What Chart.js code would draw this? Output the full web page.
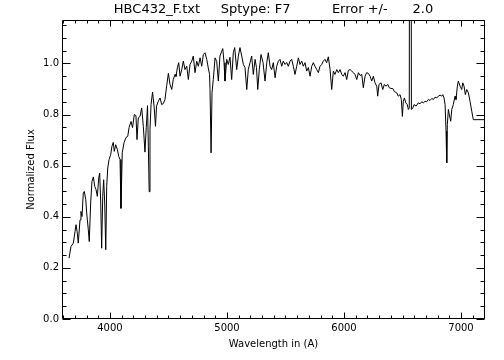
<!DOCTYPE html>
<html>
<head>
<meta charset="utf-8">
<script src="https://cdn.jsdelivr.net/npm/chart.js@4.4.1/dist/chart.umd.min.js"></script>
<style>
    body { margin: 0; background: #fff; }
</style>
</head>
<body>
<canvas id="spectrumChart" width="504" height="360"></canvas>
<script>
// Spectrum: wavelength in Angstrom, normalized flux
const wavelengths = [
    3650, 3667, 3687, 3701, 3710, 3721, 3729, 3744, 3752, 3761,
    3772, 3781, 3793, 3801, 3815, 3823, 3835, 3846, 3858, 3870,
    3881, 3892, 3904, 3912, 3921, 3929, 3938, 3946, 3955, 3964,
    3972, 3981, 3992, 4006, 4017, 4028, 4037, 4049, 4063, 4075,
    4086, 4094, 4105, 4120, 4137, 4152, 4163, 4180, 4193, 4208,
    4222, 4231, 4242, 4257, 4271, 4285, 4299, 4310, 4321, 4328,
    4335, 4342, 4351, 4364, 4378, 4389, 4398, 4413, 4428, 4442,
    4456, 4470, 4485, 4499, 4513, 4528, 4541, 4556, 4564, 4576,
    4587, 4599, 4613, 4627, 4641, 4656, 4670, 4684, 4699, 4712,
    4727, 4741, 4755, 4770, 4784, 4798, 4812, 4827, 4840, 4851,
    4855, 4864, 4872, 4883, 4898, 4912, 4926, 4940, 4955, 4964,
    4975, 4983, 4998, 5011, 5026, 5040, 5054, 5066, 5083, 5097,
    5111, 5126, 5140, 5154, 5169, 5182, 5197, 5211, 5225, 5240,
    5252, 5263, 5276, 5291, 5308, 5325, 5340, 5353, 5368, 5382,
    5396, 5411, 5425, 5439, 5453, 5468, 5481, 5496, 5510, 5524,
    5539, 5553, 5567, 5581, 5596, 5610, 5624, 5639, 5652, 5667,
    5681, 5695, 5710, 5724, 5738, 5752, 5767, 5781, 5795, 5810,
    5823, 5838, 5852, 5866, 5881, 5895, 5909, 5923, 5938, 5952,
    5966, 5981, 5994, 6009, 6023, 6037, 6052, 6066, 6080, 6094,
    6109, 6123, 6137, 6152, 6165, 6180, 6194, 6208, 6223, 6237,
    6251, 6265, 6280, 6288, 6299, 6317, 6331, 6345, 6359, 6374,
    6387, 6402, 6417, 6430, 6451, 6464, 6479, 6490, 6499, 6507,
    6516, 6528, 6541, 6550, 6558, 6565, 6576, 6588, 6599, 6616,
    6635, 6650, 6664, 6678, 6693, 6707, 6721, 6735, 6750, 6764,
    6778, 6793, 6806, 6821, 6835, 6844, 6855, 6864, 6872, 6878,
    6883, 6892, 6900, 6912, 6921, 6934, 6949, 6957, 6969, 6977,
    6992, 7006, 7015, 7026, 7037, 7049, 7063, 7077, 7092, 7105,
    7205
];
const fluxValues = [
    0.238, 0.284, 0.297, 0.342, 0.369, 0.336, 0.297, 0.388, 0.421, 0.401,
    0.493, 0.499, 0.467, 0.415, 0.349, 0.303, 0.454, 0.538, 0.556, 0.519,
    0.506, 0.480, 0.552, 0.571, 0.454, 0.277, 0.480, 0.545, 0.454, 0.271,
    0.519, 0.591, 0.624, 0.643, 0.676, 0.691, 0.656, 0.682, 0.663, 0.636,
    0.624, 0.433, 0.651, 0.690, 0.710, 0.715, 0.749, 0.773, 0.749, 0.800,
    0.796, 0.702, 0.787, 0.793, 0.826, 0.754, 0.653, 0.749, 0.835, 0.676,
    0.498, 0.741, 0.839, 0.888, 0.827, 0.754, 0.833, 0.852, 0.865, 0.839,
    0.843, 0.859, 0.914, 0.961, 0.918, 0.898, 0.937, 0.957, 0.949, 0.983,
    1.003, 0.950, 0.976, 1.009, 0.976, 0.989, 0.937, 0.996, 1.009, 1.029,
    0.964, 1.009, 0.989, 1.022, 0.989, 1.035, 1.042, 1.016, 0.983, 0.957,
    0.898, 0.650, 0.885, 0.937, 1.022, 1.008, 0.931, 1.029, 1.048, 1.058,
    1.003, 0.931, 1.016, 0.996, 1.024, 0.937, 1.042, 1.062, 0.976, 1.029,
    1.062, 1.029, 0.996, 0.984, 0.898, 0.976, 1.003, 1.029, 0.957, 1.016,
    0.984, 0.898, 0.976, 1.035, 1.004, 0.931, 1.003, 1.042, 0.989, 0.976,
    1.003, 0.944, 0.989, 1.009, 1.016, 0.989, 1.009, 0.996, 1.004, 0.989,
    1.009, 1.016, 0.989, 0.957, 0.989, 1.022, 0.996, 1.009, 0.989, 1.003,
    0.970, 0.984, 0.950, 0.989, 1.003, 0.989, 0.976, 0.964, 0.989, 0.996,
    1.009, 1.016, 1.003, 1.026, 0.976, 0.898, 0.970, 0.957, 0.976, 0.964,
    0.976, 0.957, 0.950, 0.964, 0.937, 0.973, 0.976, 0.970, 0.964, 0.957,
    0.937, 0.964, 0.953, 0.957, 0.905, 0.950, 0.964, 0.961, 0.950, 0.931,
    0.950, 0.924, 0.911, 0.872, 0.918, 0.924, 0.898, 0.918, 0.911, 0.918,
    0.905, 0.902, 0.902, 0.890, 0.885, 0.872, 0.878, 0.859, 0.793, 0.852,
    0.865, 0.846, 0.839, 0.820, 0.826, 5.000, 0.820, 0.826, 0.839, 0.833,
    0.846, 0.842, 0.850, 0.846, 0.852, 0.850, 0.859, 0.855, 0.863, 0.859,
    0.868, 0.865, 0.872, 0.876, 0.872, 0.878, 0.865, 0.839, 0.735, 0.611,
    0.761, 0.820, 0.800, 0.774, 0.820, 0.839, 0.872, 0.859, 0.911, 0.931,
    0.911, 0.898, 0.924, 0.911, 0.878, 0.898, 0.885, 0.852, 0.813, 0.780,
    0.780
];

// Axis ranges and tick labels
const xRange = [3590, 7205];
const yRange = [0, 1.17];
const xMajorTicks = [4000, 5000, 6000, 7000];
const yMajorTicks = [0.0, 0.2, 0.4, 0.6, 0.8, 1.0];
const xMinorStep = 100;
const yMinorStep = 0.05;

const titleText = 'HBC432_F.txt     Sptype: F7          Error +/-      2.0';
const labelFont = 'DejaVu Sans';

// Title centred over the plot box (the built-in title centres on the canvas)
const plotTitlePlugin = {
    id: 'plotTitle',
    afterDraw(chart) {
        const { ctx, chartArea: a } = chart;
        ctx.save();
        ctx.fillStyle = '#000';
        ctx.font = '13px "' + labelFont + '"';
        ctx.textAlign = 'center';
        ctx.textBaseline = 'middle';
        ctx.fillText(titleText, (a.left + a.right) / 2, 10);
        ctx.restore();
    }
};

// Draws the box round the plot with inward ticks on all four sides
const framePlugin = {
    id: 'frame',
    afterDatasetsDraw(chart) {
        const { ctx, chartArea: a, scales: { x, y } } = chart;
        const L = Math.round(a.left) + 0.5, R = Math.round(a.right) - 0.5;
        const T = Math.round(a.top) + 0.5, B = Math.round(a.bottom) - 0.5;
        ctx.save();
        ctx.strokeStyle = '#000';
        ctx.lineWidth = 1;
        ctx.beginPath();
        ctx.rect(L, T, R - L, B - T);

        for (let v = Math.ceil(xRange[0] / xMinorStep) * xMinorStep; v <= xRange[1]; v += xMinorStep) {
            const px = Math.round(x.getPixelForValue(v)) + 0.5;
            const len = v % 1000 === 0 ? 6 : 3;
            ctx.moveTo(px, B); ctx.lineTo(px, B - len);
            ctx.moveTo(px, T); ctx.lineTo(px, T + len);
        }
        for (let i = 0; i * yMinorStep <= yRange[1]; i++) {
            const py = Math.round(y.getPixelForValue(i * yMinorStep)) + 0.5;
            const len = i % 4 === 0 ? 8 : 4;
            ctx.moveTo(L, py); ctx.lineTo(L + len, py);
            ctx.moveTo(R, py); ctx.lineTo(R - len, py);
        }
        ctx.stroke();
        ctx.restore();
    }
};

const ctx = document.getElementById('spectrumChart').getContext('2d');
const spectrumChart = new Chart(ctx, {
    type: 'line',
    data: {
        datasets: [{
            data: wavelengths.map((w, i) => ({ x: w, y: fluxValues[i] })),
            borderColor: '#000',
            borderWidth: 1,
            pointRadius: 0,
            tension: 0,
            fill: false
        }]
    },
    options: {
        responsive: false,
        animation: false,
        devicePixelRatio: 1,
        layout: { padding: { left: 0, right: 19, top: 20, bottom: 0 } },
        plugins: {
            legend: { display: false },
            tooltip: { enabled: false },
            title: { display: false }
        },
        scales: {
            x: {
                type: 'linear',
                min: xRange[0],
                max: xRange[1],
                grid: { display: false, drawTicks: false },
                border: { display: false },
                afterBuildTicks: scale => { scale.ticks = xMajorTicks.map(v => ({ value: v })); },
                afterFit: scale => { scale.height = 41; },
                ticks: {
                    color: '#000',
                    padding: 3,
                    maxRotation: 0,
                    font: { family: labelFont, size: 10 },
                    callback: v => String(v)
                },
                title: {
                    display: true,
                    text: 'Wavelength in (A)',
                    color: '#000',
                    font: { family: labelFont, size: 10 },
                    padding: { top: 0, bottom: 10 }
                }
            },
            y: {
                type: 'linear',
                min: yRange[0],
                max: yRange[1],
                grid: { display: false, drawTicks: false },
                border: { display: false },
                afterBuildTicks: scale => { scale.ticks = yMajorTicks.map(v => ({ value: v })); },
                afterFit: scale => { scale.width = 62; },
                ticks: {
                    color: '#000',
                    padding: 3,
                    font: { family: labelFont, size: 10 },
                    callback: v => Number(v).toFixed(1)
                },
                title: {
                    display: true,
                    text: 'Normalized Flux',
                    color: '#000',
                    font: { family: labelFont, size: 10 },
                    padding: { top: 25, bottom: 0 }
                }
            }
        }
    },
    plugins: [framePlugin, plotTitlePlugin]
});
</script>
</body>
</html>
